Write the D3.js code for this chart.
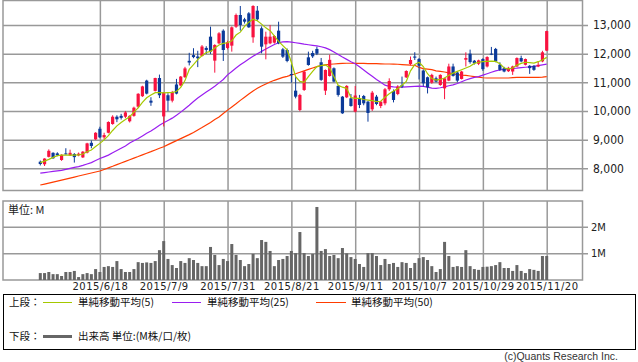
<!DOCTYPE html>
<html>
<head>
<meta charset="utf-8">
<script src="https://cdn.jsdelivr.net/npm/d3@7"></script>
<style>
  body { margin: 0; background: #fff; }
  svg { display: block; }
  .tick line { stroke: #999; stroke-width: 1.5; }
  .domain { display: none; }
</style>
</head>
<body>
<div id="chart"></div>
<script>
// trading days 2015/5/29 - 2015/11/20
const dates = [
  '2015/5/29',
  '2015/6/1','2015/6/2','2015/6/3','2015/6/4','2015/6/5','2015/6/8','2015/6/9','2015/6/10','2015/6/11','2015/6/12',
  '2015/6/15','2015/6/16','2015/6/17','2015/6/18','2015/6/19','2015/6/22','2015/6/23','2015/6/24','2015/6/25','2015/6/26',
  '2015/6/29','2015/6/30','2015/7/1','2015/7/2','2015/7/3','2015/7/6','2015/7/7','2015/7/8','2015/7/9','2015/7/10',
  '2015/7/13','2015/7/14','2015/7/15','2015/7/16','2015/7/17','2015/7/21','2015/7/22','2015/7/23','2015/7/24',
  '2015/7/27','2015/7/28','2015/7/29','2015/7/30','2015/7/31',
  '2015/8/3','2015/8/4','2015/8/5','2015/8/6','2015/8/7','2015/8/10','2015/8/11','2015/8/12','2015/8/13','2015/8/14',
  '2015/8/17','2015/8/18','2015/8/19','2015/8/20','2015/8/21','2015/8/24','2015/8/25','2015/8/26','2015/8/27','2015/8/28',
  '2015/8/31','2015/9/1','2015/9/2','2015/9/3','2015/9/4','2015/9/7','2015/9/8','2015/9/9','2015/9/10','2015/9/11',
  '2015/9/14','2015/9/15','2015/9/16','2015/9/17','2015/9/18','2015/9/24','2015/9/25','2015/9/28','2015/9/29','2015/9/30',
  '2015/10/1','2015/10/2','2015/10/5','2015/10/6','2015/10/7','2015/10/8','2015/10/9','2015/10/13','2015/10/14','2015/10/15',
  '2015/10/16','2015/10/19','2015/10/20','2015/10/21','2015/10/22','2015/10/23','2015/10/26','2015/10/27','2015/10/28','2015/10/29',
  '2015/10/30','2015/11/2','2015/11/4','2015/11/5','2015/11/6','2015/11/9','2015/11/10','2015/11/11','2015/11/12','2015/11/13',
  '2015/11/16','2015/11/17','2015/11/18','2015/11/19','2015/11/20'
];

const open = [
  8230,8140,8400,8540,8520,8290,8520,8450,8500,8450, 8380,8545,8890,9010,9380,9080,9240,9545,9800,9830,
  9800,9640,9830,10150,10515,11060,10360,10700,11150,9810, 10550,10360,10925,10890,11180,11750,11950,11900,11918,12200,
  12593,11756,12360,12802,12200,12279,12942,13349,13198,13407, 12570,13500,12884,12325,12360,12384,12802,12151,12128,11290,
  10709,10034,10733,11872,12023,12164,11700,10709,11221,11490, 10875,10500,10476,10441,9976,10444,10523,10325,10058,10500,
  10174,10267,10756,10697,10593,10900,11174,11640,11900,11812, 11412,11177,10988,11141,10906,10788,11059,11553,11341,11118,
  11788,12000,11753,11647,11812,11553,12000,12165,11612,11494, 11388,11377,11553,11847,11612,11576,11576,11553,11730,12106
];
const high = [
  8270,8350,8660,8560,8560,8490,8700,8650,8530,8550, 8600,8890,8970,9260,9450,9240,9640,9850,9850,9900,
  10000,9850,10150,10620,10880,11090,10480,11160,11270,10660, 10620,10700,11120,11220,11540,12030,12190,12100,12300,12260,
  12942,12330,12750,12850,12450,12950,13400,13663,13250,13450, 13690,13663,12950,12767,13000,12650,13116,12200,12180,11628,
  11197,10600,11400,12070,12100,12244,11850,11450,11965,11520, 10900,10520,10900,10593,10872,10560,10560,10350,10700,10560,
  10350,10800,11140,10750,10900,11200,11420,11900,12050,11850, 11450,11200,11300,11200,11280,11160,11650,11650,11380,11400,
  12047,12141,11780,11790,11840,11910,12235,12200,11700,11540, 11540,11580,11870,11930,11830,11600,11600,11730,12100,12800
];
const low = [
  8100,8080,8380,8330,8420,8260,8480,8430,8200,8420, 8360,8520,8700,8990,9050,9000,9220,9520,9610,9700,
  9750,9600,9800,10100,10490,10580,10180,10680,10450,9460, 9990,10300,10580,10860,11150,11590,11840,11530,11900,11990,
  11990,11337,12330,11744,12150,12070,12900,12802,13050,12900, 12380,13150,12011,11802,12330,12350,12330,11850,11700,10988,
  10440,9990,10700,11580,11850,11950,11050,10558,11200,11000, 10500,9900,10450,10150,9950,10100,10200,9627,10000,10200,
  10100,10200,10700,10300,10550,10800,11150,11600,11780,11100, 10850,10612,10950,11000,10880,10412,11040,11200,11000,11100,
  11553,11650,11620,11600,11400,11520,11950,11700,11400,11350, 11360,11259,11530,11700,11590,11294,11400,11530,11700,12090
];
const close = [
  8150,8340,8610,8350,8460,8470,8500,8540,8390,8510, 8580,8870,8780,9240,9080,9160,9615,9800,9710,9760,
  9950,9830,10115,10600,10857,10606,10290,11150,10550,10640, 10360,10660,10606,11200,11485,11690,11880,11840,12250,12130,
  12070,12302,12709,12128,12400,12919,13349,13000,13116,12919, 13663,13198,12244,12593,12593,12616,12360,11895,11744,11256,
  10500,10558,11372,11605,11906,12000,11085,11430,11785,11025, 10560,9918,10875,10174,10540,10210,10267,9930,10640,10244,
  10325,10756,11046,10384,10849,10850,11395,11779,11860,11577, 10965,10824,11259,11024,11259,11141,11553,11224,11059,11377,
  11847,11706,11670,11765,11459,11882,11965,11730,11435,11377, 11506,11553,11847,11729,11812,11494,11435,11612,12047,12788
];

// volume, millions
const volume = [
  0.26,0.26,0.30,0.22,0.22,0.15,0.30,0.30,0.34,0.11, 0.22,0.26,0.22,0.41,0.30,0.49,0.52,0.49,0.71,0.41,
  0.30,0.30,0.41,0.67,0.64,0.66,0.64,0.71,1.12,1.46, 0.79,0.56,0.45,0.71,0.64,0.82,0.75,0.64,0.52,0.52,
  1.24,0.94,0.56,0.79,0.71,1.35,0.94,0.75,0.52,0.60, 0.98,0.82,1.50,1.43,1.09,0.52,0.75,0.79,0.90,1.09,
  1.01,1.80,1.01,0.90,0.98,2.74,1.09,1.16,0.90,0.94, 0.82,1.20,1.00,0.86,0.79,0.60,0.49,1.01,1.01,0.90,
  0.56,0.79,0.60,0.64,0.49,0.67,0.64,0.45,0.64,0.82, 0.86,0.75,0.52,0.30,0.41,1.43,0.90,0.49,0.52,0.49,
  1.12,0.52,0.41,0.38,0.49,0.50,0.52,0.56,0.67,0.45, 0.45,0.34,0.56,0.34,0.26,0.41,0.38,0.34,0.90,0.90
];

const ma5 = [
  8196,8250,8310,8380,8440,8460,8460,8460,8460,8465, 8500,8580,8640,8760,8870,8990,9140,9320,9480,9600,
  9700,9800,9960,10110,10300,10460,10560,10640,10640,10630, 10640,10650,10680,10820,11060,11450,11620,11790,11930,12040,
  12080,12200,12300,12360,12380,12450,12650,12750,12950,13100, 13200,13150,13030,12900,12800,12620,12430,12280,12130,11700,
  11200,11030,11000,11200,11380,11550,11580,11610,11500,11200, 10900,10830,10790,10470,10440,10440,10400,10380,10360,10330,
  10340,10480,10600,10700,10780,10900,11030,11400,11620,11700, 11550,11300,11130,11080,11100,11150,11250,11320,11380,11440,
  11500,11560,11660,11700,11720,11730,11740,11730,11650,11500, 11470,11500,11600,11660,11700,11690,11670,11720,11780,11870
];
const ma25 = [
  7830,7850,7870,7890,7910,7930,7960,8000,8030,8060, 8100,8150,8200,8270,8340,8400,8460,8540,8620,8700,
  8780,8880,8960,9040,9130,9220,9300,9400,9500,9590, 9670,9750,9850,9960,10080,10200,10330,10450,10560,10660,
  10760,10860,10980,11100,11260,11380,11500,11610,11710,11810, 11910,12000,12080,12160,12240,12320,12380,12410,12420,12400,
  12380,12360,12330,12310,12290,12270,12240,12200,12140,12060, 11970,11880,11800,11720,11650,11540,11430,11320,11210,11100,
  11000,10900,10860,10840,10830,10830,10840,10850,10860,10870, 10860,10830,10800,10790,10810,10840,10880,10910,10960,11020,
  11080,11130,11170,11200,11250,11300,11350,11400,11430,11450, 11470,11485,11495,11510,11525,11540,11555,11580,11610,11635
];
const ma50 = [
  7416,7450,7485,7520,7555,7590,7625,7660,7695,7730, 7765,7800,7835,7870,7905,7960,8015,8070,8130,8185,
  8240,8300,8355,8410,8470,8525,8580,8640,8700,8754, 8825,8895,8965,9035,9105,9175,9250,9340,9420,9510,
  9600,9700,9790,9910,10030,10140,10250,10370,10480,10590, 10700,10790,10870,10940,11010,11070,11120,11170,11210,11255,
  11300,11350,11400,11450,11500,11545,11580,11610,11630,11640, 11650,11660,11665,11665,11663,11660,11660,11655,11650,11650,
  11645,11640,11640,11635,11630,11620,11610,11600,11595,11520, 11480,11460,11440,11400,11380,11360,11330,11300,11270,11250,
  11240,11220,11200,11180,11160,11150,11150,11150,11150,11150, 11150,11165,11170,11170,11170,11175,11175,11175,11180,11200
];

const priceTicks = [8000, 9000, 10000, 11000, 12000, 13000];
const volumeTicks = [1, 2];
const dateTicks = ['2015/6/18','2015/7/9','2015/7/31','2015/8/21','2015/9/11','2015/10/7','2015/10/29','2015/11/20'];

const width = 638;
const height = 362;
const plot = { left: 3, right: 582.5 };
const top1 = 0.5, bottom1 = 190.5;
const top2 = 201, bottom2 = 280;

const RED = '#f8123f', BLUE = '#0b3a99';

const svg = d3.select('#chart').append('svg')
  .attr('width', width)
  .attr('height', height);

const x = d3.scalePoint()
  .domain(dates)
  .range([40.3, 546.7]);

const y = d3.scaleLinear()
  .domain([8000, 13000])
  .range([168.3, 25]);

const yv = d3.scaleLinear()
  .domain([0, 2])
  .range([bottom2, 226.7]);

const numFont = '"DejaVu Sans Condensed", "DejaVu Sans", sans-serif';
const jpFont = '"Noto Sans CJK JP", sans-serif';

// price panel grid + right labels
svg.append('g')
  .attr('transform', `translate(${plot.left},0)`)
  .call(d3.axisRight(y).tickValues(priceTicks).tickSize(585).tickPadding(5).tickFormat(d3.format(',')))
  .call(g => g.selectAll('text').attr('font-family', numFont).attr('font-size', '12px').attr('fill', '#222'));

svg.append('g')
  .attr('transform', `translate(0,${bottom1})`)
  .call(d3.axisBottom(x).tickValues(dateTicks).tickSize(-(bottom1 - top1)).tickFormat(''));

svg.append('rect')
  .attr('x', plot.left).attr('y', top1)
  .attr('width', plot.right - plot.left).attr('height', bottom1 - top1)
  .attr('fill', 'none').attr('stroke', '#999').attr('stroke-width', 1.5);

// volume panel grid + labels
svg.append('g')
  .attr('transform', `translate(${plot.left},0)`)
  .call(d3.axisRight(yv).tickValues(volumeTicks).tickSize(585).tickPadding(3).tickFormat(d => d + 'M'))
  .call(g => g.selectAll('text').attr('font-family', numFont).attr('font-size', '11px').attr('fill', '#222'));

svg.append('g')
  .attr('transform', `translate(0,${bottom2})`)
  .call(d3.axisBottom(x).tickValues(dateTicks).tickSize(-(bottom2 - top2)).tickPadding(3))
  .call(g => g.selectAll('text')
    .attr('font-family', '"DejaVu Sans", sans-serif')
    .attr('font-size', '10px')
    .attr('letter-spacing', '0.5px')
    .attr('fill', '#222'));

svg.append('rect')
  .attr('x', plot.left).attr('y', top2)
  .attr('width', plot.right - plot.left).attr('height', bottom2 - top2)
  .attr('fill', 'none').attr('stroke', '#999').attr('stroke-width', 1.5);

svg.append('text')
  .attr('x', 8).attr('y', 214)
  .attr('font-family', jpFont).attr('font-size', '11px').attr('fill', '#222')
  .text('単位: M');

// volume bars
svg.append('g')
  .selectAll('rect')
  .data(dates)
  .join('rect')
  .attr('x', d => x(d) - 1.5)
  .attr('y', (d, i) => yv(volume[i]))
  .attr('width', 3)
  .attr('height', (d, i) => yv(0) - yv(volume[i]))
  .attr('fill', '#666');

// moving averages
const maLine = arr => d3.line()
  .x(d => x(d))
  .y((d, i) => y(arr[i]))(dates);

svg.append('path').attr('d', maLine(ma50)).attr('fill', 'none').attr('stroke', '#ff3c00').attr('stroke-width', 1.2);
svg.append('path').attr('d', maLine(ma25)).attr('fill', 'none').attr('stroke', '#9a1ef0').attr('stroke-width', 1.2);

// candles
const candles = svg.append('g')
  .selectAll('g')
  .data(dates)
  .join('g')
  .attr('fill', (d, i) => close[i] >= open[i] ? RED : BLUE)
  .attr('stroke', (d, i) => close[i] >= open[i] ? RED : BLUE);

candles.append('line')
  .attr('x1', d => x(d)).attr('x2', d => x(d))
  .attr('y1', (d, i) => y(high[i]))
  .attr('y2', (d, i) => y(low[i]))
  .attr('stroke-width', 1);

candles.append('rect')
  .attr('x', d => x(d) - 1.6)
  .attr('y', (d, i) => y(Math.max(open[i], close[i])))
  .attr('width', 3.2)
  .attr('height', (d, i) => Math.max(1, Math.abs(y(open[i]) - y(close[i]))))
  .attr('stroke', 'none');

svg.append('path').attr('d', maLine(ma5)).attr('fill', 'none').attr('stroke', '#a5c800').attr('stroke-width', 1.2);

// legend
const legend = svg.append('g');
legend.append('rect')
  .attr('x', 3.5).attr('y', 294.5)
  .attr('width', 632).attr('height', 55)
  .attr('fill', 'none').attr('stroke', '#000').attr('stroke-width', 1);

const lg = (tx, ty, t) => legend.append('text')
  .attr('x', tx).attr('y', ty)
  .attr('font-family', jpFont).attr('font-size', '10.5px').attr('fill', '#111')
  .text(t);
const ll = (x1, x2, ly, c, w) => legend.append('line')
  .attr('x1', x1).attr('x2', x2).attr('y1', ly).attr('y2', ly)
  .attr('stroke', c).attr('stroke-width', w);

lg(9, 306, '上段：');
ll(43, 72, 302.5, '#a5c800', 1);
lg(78, 306, '単純移動平均(5)');
ll(172, 201, 302.5, '#9a1ef0', 1);
lg(207, 306, '単純移動平均(25)');
ll(316, 346, 302.5, '#ff3c00', 1);
lg(351, 306, '単純移動平均(50)');

lg(9, 340, '下段：');
ll(43, 72, 336.5, '#666', 3);
lg(78, 340, '出来高 単位:(M株/口/枚)');

svg.append('text')
  .attr('x', 618).attr('y', 360)
  .attr('text-anchor', 'end')
  .attr('font-family', '"Liberation Sans", sans-serif')
  .attr('font-size', '10.5px').attr('fill', '#333')
  .text('(c)Quants Research Inc.');
</script>
</body>
</html>
